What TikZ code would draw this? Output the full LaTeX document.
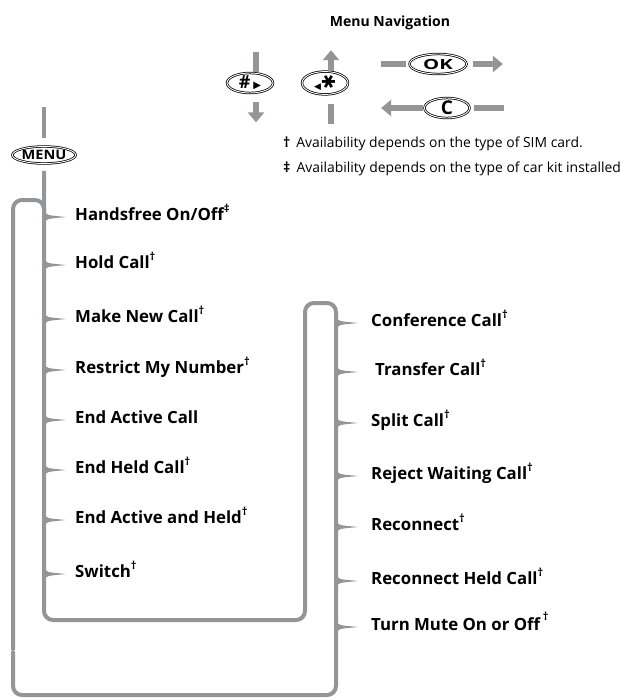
\documentclass[tikz,border=0pt]{standalone}
\usepackage{fontspec}
\setmainfont{Open Sans}
\newfontfamily\keysym{DejaVu Sans}
\usepackage{graphicx}
\usepackage{xcolor}
\definecolor{navgray}{RGB}{148,149,153}
\usepackage{tikz}
\usetikzlibrary{shapes.geometric, arrows.meta, positioning, calc}
\newcommand{\dg}[1]{\raisebox{0.5em}{\fontsize{11}{11}\selectfont #1}}
\tikzset{
  menuitem/.style={
    anchor=west, inner sep=0pt, text height=0.95em, text depth=0.23em,
    font=\fontsize{16.8}{19}\selectfont\bfseries},
  notetext/.style={
    anchor=west, inner sep=0pt, font=\fontsize{13.9}{16}\selectfont},
  keyoval/.style={
    ellipse, draw=black, double=white, double distance=0.9pt,
    line width=0.75pt, inner sep=0pt, minimum height=20pt, font=\bfseries},
  loopline/.style={navgray, line width=4pt, rounded corners=9pt},
  navbar/.style={navgray, line width=6pt},
  navarrow/.style={navbar, -{Triangle[length=10pt,width=16pt]}},
  brtick/.pic={
    \fill[navgray] (0,-11) .. controls (0,-4) and (2,-2) .. (8,-1.4) -- (22,0)
      -- (8,1.4) .. controls (2,2) and (0,4) .. (0,11) -- cycle;},
}

\begin{document}
\begin{tikzpicture}[x=1pt, y=-1pt]
  \useasboundingbox (0,0) rectangle (621,699);
  % heading, keys and notes
  \node[font=\fontsize{14}{17}\selectfont\bfseries] (title) at (390,23) {Menu Navigation};
  \node[keyoval, minimum width=46pt] (hashkey) at (250,83)
    {\fontsize{18}{18}\selectfont\#\,{\keysym\fontsize{10}{10}\selectfont ▶}};
  \node[keyoval, minimum width=46pt] (starkey) at (325,83)
    {{\keysym\fontsize{9}{9}\selectfont ◀}\,{\keysym\fontsize{18}{18}\selectfont\rotatebox{90}{✱}}};
  \node[keyoval, minimum width=57pt] (okkey) at (438,64)
    {\fontsize{14}{14}\selectfont\scalebox{1.45}[1]{OK}};
  \node[keyoval, minimum width=45pt] (ckey) at (447,108) {\fontsize{19}{19}\selectfont C};
  \node[keyoval, minimum width=58pt, minimum height=17pt] (menukey) at (44,155)
    {\fontsize{13}{13}\selectfont\scalebox{1.12}[1]{MENU}};
  \node[notetext] (simnote) at (283,144) {\textbf{†}\hspace{6pt}Availability depends on the type of SIM card.};
  \node[notetext] (kitnote) at (283,169) {\textbf{‡}\hspace{6pt}Availability depends on the type of car kit installed};

  \draw[navbar] ([xshift=6pt,yshift=1pt]hashkey.north) -- +(0,-20);
  \draw[navarrow] ([xshift=6pt,yshift=-9pt]hashkey.south) -- +(0,20);
  \draw[navarrow] ([xshift=6pt]starkey.north) -- +(0,-21);
  \draw[navbar] ([xshift=6pt,yshift=-9pt]starkey.south) -- +(0,20);
  \draw[navbar] ([xshift=-3pt]okkey.west) -- +(-25,0);
  \draw[navarrow] ([xshift=6pt]okkey.east) -- +(30,0);
  \draw[navarrow] ([xshift=-1pt]ckey.west) -- +(-42,0);
  \draw[navbar] ([xshift=4pt]ckey.east) -- +(30,0);

  % call menu items
  \node[menuitem] (handsfree) at (75,217) {Handsfree On/Off\dg{‡}};
  \node[menuitem] (holdcall) at (75,265) {Hold Call\dg{†}};
  \node[menuitem] (newcall) at (75,319) {Make New Call\dg{†}};
  \node[menuitem] (restrict) at (75,370) {Restrict My Number\dg{†}};
  \node[menuitem] (endactive) at (75,420) {End Active Call};
  \node[menuitem] (endheld) at (75,470) {End Held Call\dg{†}};
  \node[menuitem] (endboth) at (75,520) {End Active and Held\dg{†}};
  \node[menuitem] (switch) at (75,574) {Switch\dg{†}};
  \node[menuitem] (conference) at (371,323) {Conference Call\dg{†}};
  \node[menuitem] (transfer) at (375,372) {Transfer Call\dg{†}};
  \node[menuitem] (split) at (371,423) {Split Call\dg{†}};
  \node[menuitem] (reject) at (371,476) {Reject Waiting Call\dg{†}};
  \node[menuitem] (reconnect) at (371,527) {Reconnect\dg{†}};
  \node[menuitem] (reconheld) at (371,581) {Reconnect Held Call\dg{†}};
  \node[menuitem] (mute) at (371,627) {Turn Mute On or Off\,\raisebox{2pt}{\dg{†}}};

  % the loop
  \coordinate (feedin) at (44,107);
  \coordinate (innerbl) at (44,620);
  \coordinate (innerbr) at (305,620);
  \coordinate (innertl) at (305,303);
  \coordinate (rspine) at (336,303);
  \coordinate (outerbr) at (336,695);
  \coordinate (outerbl) at (13,695);
  \coordinate (backup) at (13,652);
  \coordinate (backon) at (13,650);
  \coordinate (outertl) at (13,200);
  \coordinate (outertr) at (44,200);
  \coordinate (rejoin) at (44,214);
  \draw[loopline] (feedin) -- ([yshift=8pt]menukey.north);
  \draw[loopline] ([yshift=-7pt]menukey.south) -- (innerbl) -- (innerbr) -- (innertl)
    -- (rspine) -- (outerbr) -- (outerbl) -- (backup);
  \draw[loopline] (backon) -- (outertl) -- (outertr) -- (rejoin);
  \fill[navgray] ($(backup)+(-2,0)$) -- ($(backup)+(0,-3)$) -- ($(backup)+(2,0)$) -- cycle;
  \foreach \n in {handsfree,holdcall,newcall,restrict,endactive,endheld,endboth,switch}
    \pic at (menukey |- \n.west) {brtick};
  \foreach \n in {conference,transfer,split,reject,reconnect,reconheld,mute}
    \pic at (rspine |- \n.west) {brtick};
\end{tikzpicture}
\end{document}
